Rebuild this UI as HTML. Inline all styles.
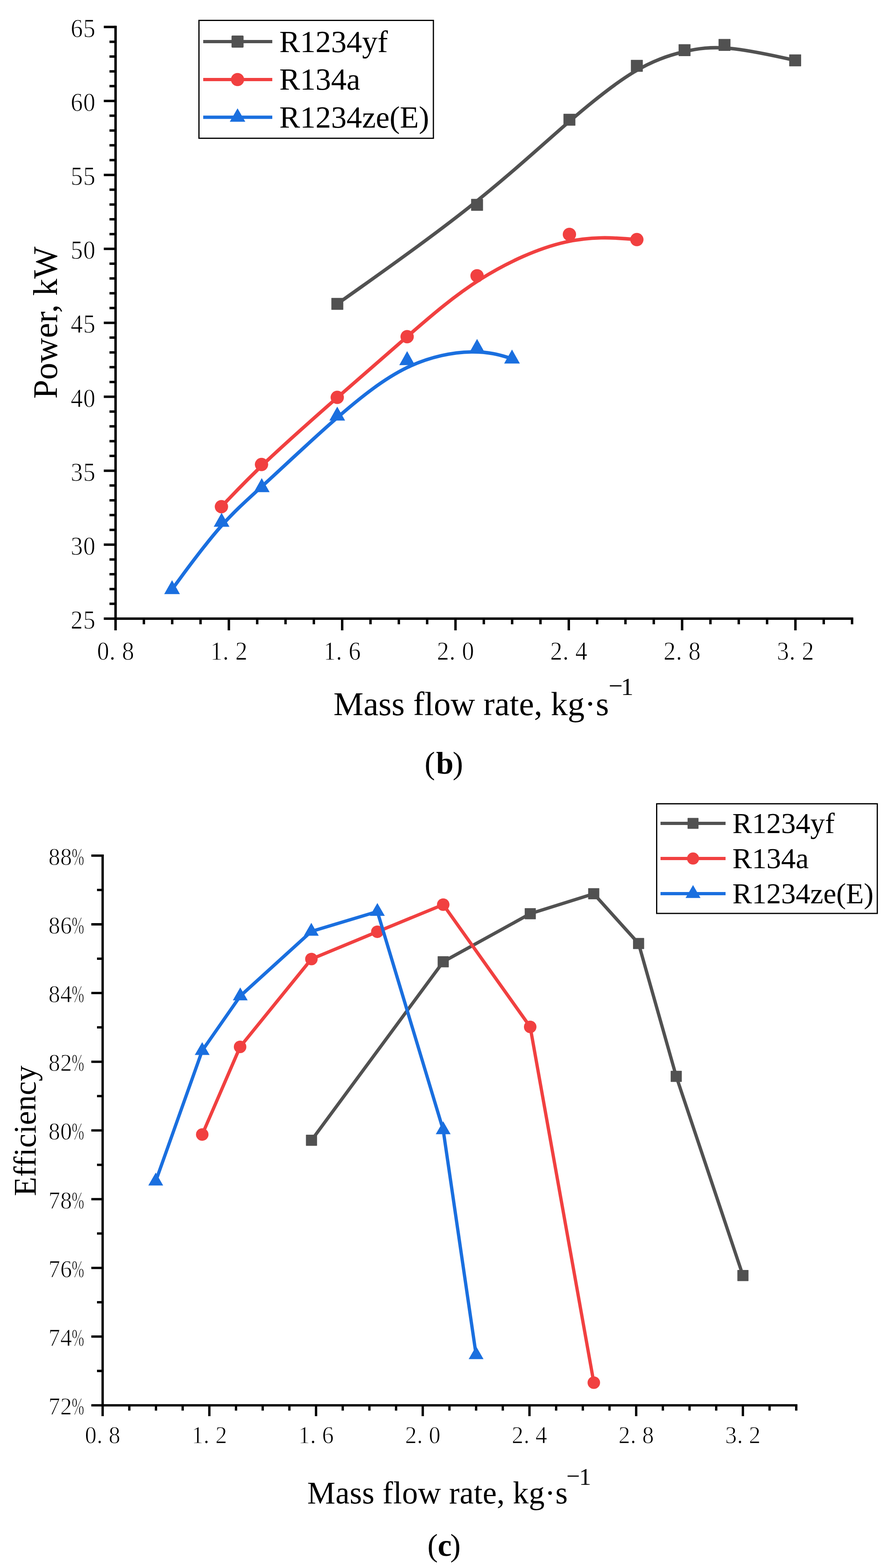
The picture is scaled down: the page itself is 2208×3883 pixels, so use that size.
<!DOCTYPE html>
<html lang="en"><head><meta charset="utf-8"><title>Power and efficiency versus mass flow rate</title>
<style>html,body{margin:0;padding:0;background:#fff}body{width:2208px;height:3883px;overflow:hidden}svg{display:block}text{font-family:"Liberation Serif",serif;fill:#000}</style>
</head><body>
<svg width="2208" height="3883" viewBox="0 0 2208 3883" role="img" aria-label="Line charts of power (b) and efficiency (c) versus mass flow rate for R1234yf, R134a and R1234ze(E)">
<rect width="2208" height="3883" fill="#fff"/>
<g id="chart-b">
<path d="M286.05,63.84 V1560.95" stroke="#000" stroke-width="6.1" fill="none"/>
<path d="M256.9,1532 H2112.17" stroke="#000" stroke-width="6.1" fill="none"/>
<path d="M566.53,1532 v28.95 M847.01,1532 v28.95 M1127.49,1532 v28.95 M1407.97,1532 v28.95 M1688.45,1532 v28.95 M1968.93,1532 v28.95 M356.17,1532 v13.95 M426.29,1532 v13.95 M496.41,1532 v13.95 M636.65,1532 v13.95 M706.77,1532 v13.95 M776.89,1532 v13.95 M917.13,1532 v13.95 M987.25,1532 v13.95 M1057.37,1532 v13.95 M1197.61,1532 v13.95 M1267.73,1532 v13.95 M1337.85,1532 v13.95 M1478.09,1532 v13.95 M1548.21,1532 v13.95 M1618.33,1532 v13.95 M1758.57,1532 v13.95 M1828.69,1532 v13.95 M1898.81,1532 v13.95 M2039.05,1532 v13.95 M2109.17,1532 v13.95 M286.05,1348.86 h-29.15 M286.05,1165.71 h-29.15 M286.05,982.57 h-29.15 M286.05,799.42 h-29.15 M286.05,616.28 h-29.15 M286.05,433.13 h-29.15 M286.05,249.99 h-29.15 M286.05,66.84 h-29.15 M286.05,1495.37 h-15.05 M286.05,1458.74 h-15.05 M286.05,1422.11 h-15.05 M286.05,1385.48 h-15.05 M286.05,1312.23 h-15.05 M286.05,1275.6 h-15.05 M286.05,1238.97 h-15.05 M286.05,1202.34 h-15.05 M286.05,1129.08 h-15.05 M286.05,1092.45 h-15.05 M286.05,1055.82 h-15.05 M286.05,1019.19 h-15.05 M286.05,945.94 h-15.05 M286.05,909.31 h-15.05 M286.05,872.68 h-15.05 M286.05,836.05 h-15.05 M286.05,762.79 h-15.05 M286.05,726.16 h-15.05 M286.05,689.53 h-15.05 M286.05,652.9 h-15.05 M286.05,579.65 h-15.05 M286.05,543.02 h-15.05 M286.05,506.39 h-15.05 M286.05,469.76 h-15.05 M286.05,396.5 h-15.05 M286.05,359.87 h-15.05 M286.05,323.24 h-15.05 M286.05,286.61 h-15.05 M286.05,213.36 h-15.05 M286.05,176.73 h-15.05 M286.05,140.1 h-15.05 M286.05,103.47 h-15.05" stroke="#000" stroke-width="6" fill="none"/>
<g class="ticklabels" stroke="#fff" stroke-width="1.1">
<text transform="translate(240.17,1633.8) scale(0.9,1)" x="0 34.09 68.67" font-size="66.6">0.8</text>
<text transform="translate(520.65,1633.8) scale(0.9,1)" x="0 34.09 68.67" font-size="66.6">1.2</text>
<text transform="translate(801.12,1633.8) scale(0.9,1)" x="0 34.09 68.67" font-size="66.6">1.6</text>
<text transform="translate(1081.61,1633.8) scale(0.9,1)" x="0 34.09 68.67" font-size="66.6">2.0</text>
<text transform="translate(1362.09,1633.8) scale(0.9,1)" x="0 34.09 68.67" font-size="66.6">2.4</text>
<text transform="translate(1642.56,1633.8) scale(0.9,1)" x="0 34.09 68.67" font-size="66.6">2.8</text>
<text transform="translate(1923.05,1633.8) scale(0.9,1)" x="0 34.09 68.67" font-size="66.6">3.2</text>
<text transform="translate(175.07,1557) scale(0.9,1)" x="0 34.33" font-size="66.6">25</text>
<text transform="translate(175.07,1373.86) scale(0.9,1)" x="0 34.33" font-size="66.6">30</text>
<text transform="translate(175.07,1190.71) scale(0.9,1)" x="0 34.33" font-size="66.6">35</text>
<text transform="translate(175.07,1007.57) scale(0.9,1)" x="0 34.33" font-size="66.6">40</text>
<text transform="translate(175.07,824.42) scale(0.9,1)" x="0 34.33" font-size="66.6">45</text>
<text transform="translate(175.07,641.28) scale(0.9,1)" x="0 34.33" font-size="66.6">50</text>
<text transform="translate(175.07,458.13) scale(0.9,1)" x="0 34.33" font-size="66.6">55</text>
<text transform="translate(175.07,274.99) scale(0.9,1)" x="0 34.33" font-size="66.6">60</text>
<text transform="translate(175.07,91.84) scale(0.9,1)" x="0 34.33" font-size="66.6">65</text>
</g>
<text transform="translate(141,799) rotate(-90)" text-anchor="middle" font-size="84.5">Power, kW</text>
<text x="825.5" y="1771" font-size="83.5">Mass flow rate, kg·s<tspan font-size="62" x="1506.5 1537.1" y="1718.5 1721">−1</tspan></text>
<text y="1915.7" font-size="77.5"><tspan x="1051">(</tspan><tspan x="1079.5" font-weight="bold">b</tspan><tspan x="1120.5">)</tspan></text>
<path d="M835,752.5 C835,752.5 835,752.5 892.65,711.63 C950.3,670.77 1065.6,589.03 1161.35,513.05 C1257.1,437.07 1333.3,366.83 1399.22,309.47 C1465.13,252.1 1520.77,207.6 1568.27,178.87 C1615.77,150.13 1655.13,137.17 1691.3,128.52 C1727.47,119.87 1760.43,115.53 1806.07,119.75 C1851.7,123.97 1910,136.73 1939.15,143.12 C1968.3,149.5 1968.3,149.5 1968.3,149.5" stroke="#515151" stroke-width="8.6" fill="none" stroke-linejoin="round"/>
<rect x="820.25" y="737.75" width="29.5" height="29.5" rx="0.8" fill="#515151"/>
<rect x="1166.15" y="492.55" width="29.5" height="29.5" rx="0.8" fill="#515151"/>
<rect x="1394.75" y="281.85" width="29.5" height="29.5" rx="0.8" fill="#515151"/>
<rect x="1561.65" y="148.35" width="29.5" height="29.5" rx="0.8" fill="#515151"/>
<rect x="1679.75" y="109.45" width="29.5" height="29.5" rx="0.8" fill="#515151"/>
<rect x="1778.65" y="96.45" width="29.5" height="29.5" rx="0.8" fill="#515151"/>
<rect x="1953.55" y="134.75" width="29.5" height="29.5" rx="0.8" fill="#515151"/>
<path d="M548.1,1254.7 C548.1,1254.7 548.1,1254.7 564.63,1237.3 C581.17,1219.9 614.23,1185.1 662.02,1140 C709.8,1094.9 772.3,1039.5 832.38,986.73 C892.47,933.97 950.13,883.83 1007.82,833.63 C1065.5,783.43 1123.2,733.17 1190.15,690.95 C1257.1,648.73 1333.3,614.57 1399.22,599.63 C1465.13,584.7 1520.77,589 1548.58,591.15 C1576.4,593.3 1576.4,593.3 1576.4,593.3" stroke="#F14040" stroke-width="8.6" fill="none" stroke-linejoin="round"/>
<circle cx="548.1" cy="1254.7" r="16.5" fill="#F14040"/>
<circle cx="647.3" cy="1150.3" r="16.5" fill="#F14040"/>
<circle cx="834.8" cy="984.1" r="16.5" fill="#F14040"/>
<circle cx="1007.8" cy="833.7" r="16.5" fill="#F14040"/>
<circle cx="1180.9" cy="682.9" r="16.5" fill="#F14040"/>
<circle cx="1409.5" cy="580.4" r="16.5" fill="#F14040"/>
<circle cx="1576.4" cy="593.3" r="16.5" fill="#F14040"/>
<path d="M425.9,1459.5 C425.9,1459.5 425.9,1459.5 446.33,1431.7 C466.77,1403.9 507.63,1348.3 544.63,1306.18 C581.63,1264.07 614.77,1235.43 662.48,1191.6 C710.2,1147.77 772.5,1088.73 832.48,1036.33 C892.47,983.93 950.13,938.17 1007.82,910.22 C1065.5,882.27 1123.2,872.13 1166.47,871.45 C1209.73,870.77 1238.57,879.53 1252.98,883.92 C1267.4,888.3 1267.4,888.3 1267.4,888.3" stroke="#1A6FDF" stroke-width="8.6" fill="none" stroke-linejoin="round"/>
<path d="M425.9,1436.71 L445.4,1471.34 L406.4,1471.34 Z" fill="#1A6FDF"/>
<path d="M548.5,1269.91 L568,1304.54 L529,1304.54 Z" fill="#1A6FDF"/>
<path d="M647.9,1184.01 L667.4,1218.64 L628.4,1218.64 Z" fill="#1A6FDF"/>
<path d="M834.8,1006.91 L854.3,1041.54 L815.3,1041.54 Z" fill="#1A6FDF"/>
<path d="M1007.8,869.61 L1027.3,904.24 L988.3,904.24 Z" fill="#1A6FDF"/>
<path d="M1180.9,839.21 L1200.4,873.84 L1161.4,873.84 Z" fill="#1A6FDF"/>
<path d="M1267.4,865.51 L1286.9,900.14 L1247.9,900.14 Z" fill="#1A6FDF"/>
<rect x="492.5" y="50.5" width="580.3" height="291.9" fill="#fff" stroke="#000" stroke-width="3"/>
<path d="M503,103 H674" stroke="#515151" stroke-width="8.1" fill="none"/>
<rect x="573.1" y="88.1" width="29.8" height="29.8" rx="2" fill="#515151"/>
<text transform="translate(691.6,129) scale(0.995,1)" font-size="77.1">R1234yf</text>
<path d="M503,197 H674" stroke="#F14040" stroke-width="8.1" fill="none"/>
<circle cx="588" cy="197" r="16.35" fill="#F14040"/>
<text transform="translate(691.6,222.45) scale(0.995,1)" font-size="77.1">R134a</text>
<path d="M503,290.4 H674" stroke="#1A6FDF" stroke-width="8.1" fill="none"/>
<path d="M588,268.17 L607.25,301.51 L568.75,301.51 Z" fill="#1A6FDF"/>
<text transform="translate(691.6,315.9) scale(0.995,1)" font-size="77.1">R1234ze(E)</text>
</g>
<g id="chart-c">
<path d="M254.05,2115.92 V3506.9" stroke="#000" stroke-width="5.8" fill="none"/>
<path d="M226.05,3480.1 H1973.86" stroke="#000" stroke-width="5.8" fill="none"/>
<path d="M518.19,3480.1 v26.8 M782.33,3480.1 v26.8 M1046.47,3480.1 v26.8 M1310.61,3480.1 v26.8 M1574.75,3480.1 v26.8 M1838.89,3480.1 v26.8 M320.08,3480.1 v13.1 M386.12,3480.1 v13.1 M452.16,3480.1 v13.1 M584.23,3480.1 v13.1 M650.26,3480.1 v13.1 M716.3,3480.1 v13.1 M848.37,3480.1 v13.1 M914.4,3480.1 v13.1 M980.43,3480.1 v13.1 M1112.51,3480.1 v13.1 M1178.54,3480.1 v13.1 M1244.57,3480.1 v13.1 M1376.64,3480.1 v13.1 M1442.68,3480.1 v13.1 M1508.72,3480.1 v13.1 M1640.78,3480.1 v13.1 M1706.82,3480.1 v13.1 M1772.85,3480.1 v13.1 M1904.92,3480.1 v13.1 M1970.96,3480.1 v13.1 M254.05,3309.94 h-28 M254.05,3139.78 h-28 M254.05,2969.62 h-28 M254.05,2799.46 h-28 M254.05,2629.3 h-28 M254.05,2459.14 h-28 M254.05,2288.98 h-28 M254.05,2118.82 h-28 M254.05,3395.02 h-13.9 M254.05,3224.86 h-13.9 M254.05,3054.7 h-13.9 M254.05,2884.54 h-13.9 M254.05,2714.38 h-13.9 M254.05,2544.22 h-13.9 M254.05,2374.06 h-13.9 M254.05,2203.9 h-13.9" stroke="#000" stroke-width="5.8" fill="none"/>
<g class="ticklabels" stroke="#fff" stroke-width="1.1">
<text transform="translate(210.24,3573.8) scale(0.951,1)" x="0 30.87 61.83" font-size="60.6">0.8</text>
<text transform="translate(474.38,3573.8) scale(0.951,1)" x="0 30.87 61.83" font-size="60.6">1.2</text>
<text transform="translate(738.52,3573.8) scale(0.951,1)" x="0 30.87 61.83" font-size="60.6">1.6</text>
<text transform="translate(1002.66,3573.8) scale(0.951,1)" x="0 30.87 61.83" font-size="60.6">2.0</text>
<text transform="translate(1266.8,3573.8) scale(0.951,1)" x="0 30.87 61.83" font-size="60.6">2.4</text>
<text transform="translate(1530.94,3573.8) scale(0.951,1)" x="0 30.87 61.83" font-size="60.6">2.8</text>
<text transform="translate(1795.08,3573.8) scale(0.951,1)" x="0 30.87 61.83" font-size="60.6">3.2</text>
<text transform="translate(119.89,3503.1) scale(0.951,1)" x="0 30.91" font-size="60.6">72<tspan x="60.58" textLength="32.49" lengthAdjust="spacingAndGlyphs">%</tspan></text>
<text transform="translate(119.89,3332.94) scale(0.951,1)" x="0 30.91" font-size="60.6">74<tspan x="60.58" textLength="32.49" lengthAdjust="spacingAndGlyphs">%</tspan></text>
<text transform="translate(119.89,3162.78) scale(0.951,1)" x="0 30.91" font-size="60.6">76<tspan x="60.58" textLength="32.49" lengthAdjust="spacingAndGlyphs">%</tspan></text>
<text transform="translate(119.89,2992.62) scale(0.951,1)" x="0 30.91" font-size="60.6">78<tspan x="60.58" textLength="32.49" lengthAdjust="spacingAndGlyphs">%</tspan></text>
<text transform="translate(119.89,2822.46) scale(0.951,1)" x="0 30.91" font-size="60.6">80<tspan x="60.58" textLength="32.49" lengthAdjust="spacingAndGlyphs">%</tspan></text>
<text transform="translate(119.89,2652.3) scale(0.951,1)" x="0 30.91" font-size="60.6">82<tspan x="60.58" textLength="32.49" lengthAdjust="spacingAndGlyphs">%</tspan></text>
<text transform="translate(119.89,2482.14) scale(0.951,1)" x="0 30.91" font-size="60.6">84<tspan x="60.58" textLength="32.49" lengthAdjust="spacingAndGlyphs">%</tspan></text>
<text transform="translate(119.89,2311.98) scale(0.951,1)" x="0 30.91" font-size="60.6">86<tspan x="60.58" textLength="32.49" lengthAdjust="spacingAndGlyphs">%</tspan></text>
<text transform="translate(119.89,2141.82) scale(0.951,1)" x="0 30.91" font-size="60.6">88<tspan x="60.58" textLength="32.49" lengthAdjust="spacingAndGlyphs">%</tspan></text>
</g>
<text transform="translate(88.2,2800.4) rotate(-90)" text-anchor="middle" font-size="78">Efficiency</text>
<text x="760.5" y="3723.1" font-size="78.3" letter-spacing="0.29">Mass flow rate, kg·s<tspan font-size="59.5" letter-spacing="0" x="1402 1433.6" y="3674.6 3677">−1</tspan></text>
<text y="3852.8" font-size="77.5"><tspan x="1058">(</tspan><tspan x="1083.5" font-weight="bold">c</tspan><tspan x="1114.5">)</tspan></text>
<path d="M771.05,2823.85 L1097.1,2381.7 L1312.6,2262.7 L1469.7,2213.3 L1580.7,2336.6 L1673.9,2665.5 L1839,3158.8" stroke="#515151" stroke-width="8.2" fill="none" stroke-linejoin="round"/>
<rect x="757.3" y="2810.1" width="27.5" height="27.5" rx="0.8" fill="#515151"/>
<rect x="1083.35" y="2367.95" width="27.5" height="27.5" rx="0.8" fill="#515151"/>
<rect x="1298.85" y="2248.95" width="27.5" height="27.5" rx="0.8" fill="#515151"/>
<rect x="1455.95" y="2199.55" width="27.5" height="27.5" rx="0.8" fill="#515151"/>
<rect x="1566.95" y="2322.85" width="27.5" height="27.5" rx="0.8" fill="#515151"/>
<rect x="1660.15" y="2651.75" width="27.5" height="27.5" rx="0.8" fill="#515151"/>
<rect x="1825.25" y="3145.05" width="27.5" height="27.5" rx="0.8" fill="#515151"/>
<path d="M500.6,2809.5 L594.3,2592.5 L770.8,2375 L934,2307.4 L1097.1,2240.2 L1312.4,2543 L1469.9,3424.05" stroke="#F14040" stroke-width="8.2" fill="none" stroke-linejoin="round"/>
<circle cx="500.6" cy="2809.5" r="15.5" fill="#F14040"/>
<circle cx="594.3" cy="2592.5" r="15.5" fill="#F14040"/>
<circle cx="770.8" cy="2375" r="15.5" fill="#F14040"/>
<circle cx="934" cy="2307.4" r="15.5" fill="#F14040"/>
<circle cx="1097.1" cy="2240.2" r="15.5" fill="#F14040"/>
<circle cx="1312.4" cy="2543" r="15.5" fill="#F14040"/>
<circle cx="1469.9" cy="3424.05" r="15.5" fill="#F14040"/>
<path d="M385.5,2925.05 L500.5,2601.9 L594.7,2466.6 L770.6,2306.6 L934.1,2257.4 L1097.05,2798.1 L1178.5,3355.1" stroke="#1A6FDF" stroke-width="8.2" fill="none" stroke-linejoin="round"/>
<path d="M385.5,2903.8 L403.9,2935.67 L367.1,2935.67 Z" fill="#1A6FDF"/>
<path d="M500.5,2580.65 L518.9,2612.52 L482.1,2612.52 Z" fill="#1A6FDF"/>
<path d="M594.7,2445.35 L613.1,2477.22 L576.3,2477.22 Z" fill="#1A6FDF"/>
<path d="M770.6,2285.35 L789,2317.22 L752.2,2317.22 Z" fill="#1A6FDF"/>
<path d="M934.1,2236.15 L952.5,2268.02 L915.7,2268.02 Z" fill="#1A6FDF"/>
<path d="M1097.05,2776.85 L1115.45,2808.72 L1078.65,2808.72 Z" fill="#1A6FDF"/>
<path d="M1178.5,3333.85 L1196.9,3365.72 L1160.1,3365.72 Z" fill="#1A6FDF"/>
<rect x="1625.5" y="1990.5" width="546.1" height="271.5" fill="#fff" stroke="#000" stroke-width="3"/>
<path d="M1635,2039 H1796" stroke="#515151" stroke-width="8" fill="none"/>
<rect x="1701.95" y="2025.45" width="27.1" height="27.1" rx="1.2" fill="#515151"/>
<text transform="translate(1813,2063) scale(0.9975,1)" font-size="72.5">R1234yf</text>
<path d="M1635,2126.05 H1796" stroke="#F14040" stroke-width="8" fill="none"/>
<circle cx="1715.5" cy="2126.05" r="15" fill="#F14040"/>
<text transform="translate(1813,2149.9) scale(0.9975,1)" font-size="72.5">R134a</text>
<path d="M1635,2213 H1796" stroke="#1A6FDF" stroke-width="8" fill="none"/>
<path d="M1715.5,2191.64 L1734,2223.68 L1697,2223.68 Z" fill="#1A6FDF"/>
<text transform="translate(1813,2236.8) scale(0.9975,1)" font-size="72.5">R1234ze(E)</text>
</g>
</svg></body></html>
